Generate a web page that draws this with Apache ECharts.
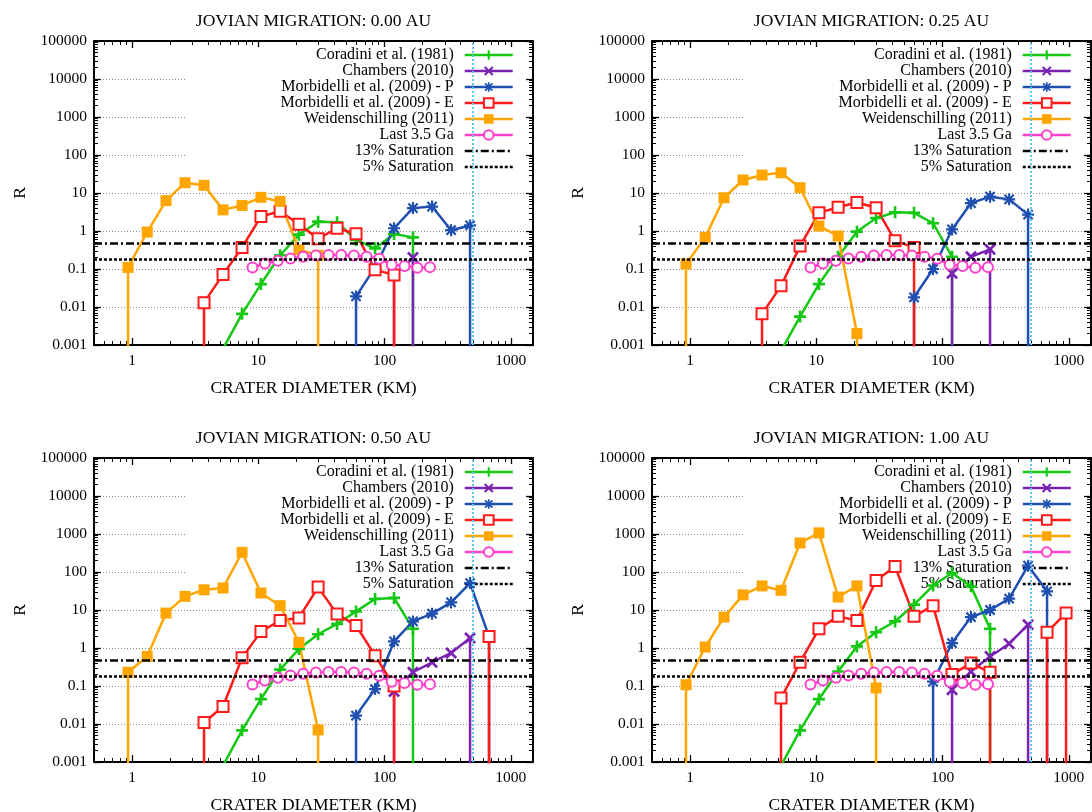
<!DOCTYPE html>
<html><head><meta charset="utf-8">
<script src="https://cdn.jsdelivr.net/npm/echarts@6/dist/echarts.min.js"></script>
<style>html,body{margin:0;padding:0;background:#fff}#c{width:1092px;height:812px}</style>
</head><body><div id="c"></div><script>
// ---------------- DATA ----------------
const titles = ['JOVIAN MIGRATION: 0.00 AU','JOVIAN MIGRATION: 0.25 AU','JOVIAN MIGRATION: 0.50 AU','JOVIAN MIGRATION: 1.00 AU'];
const seriesNames = ['Coradini et al. (1981)','Chambers (2010)','Morbidelli et al. (2009) - P','Morbidelli et al. (2009) - E','Weidenschilling (2011)','Last 3.5 Ga','13% Saturation','5% Saturation'];
const xTickValues = [1, 10, 100, 1000];
const xTickLabels = ['1', '10', '100', '1000'];
const yTickValues = [0.001, 0.01, 0.1, 1, 10, 100, 1000, 10000, 100000];
const yTickLabels = ['0.001', '0.01', '0.1', '1', '10', '100', '1000', '10000', '100000'];
const minorMantissas = [2, 3, 4, 5, 6, 7, 8, 9];
const xMinorDecades = [0.1, 1, 10, 100];
const yMinorDecades = [0.001, 0.01, 0.1, 1, 10, 100, 1000, 10000];
const X_MIN = 0.5, X_MAX = 1500, Y_MIN = 0.001, Y_MAX = 100000;
const sat13 = 0.481;   // 13% of geometric saturation
const sat05 = 0.185;   // 5% of geometric saturation
const refDiameter = 500;
// Pairs [D (km), R]; R = 0 means an empty bin (drawn as a drop off the plot)
// 0.00 AU
const cor000 = [[5.26,0.0008],[7.44,0.0066],[10.5,0.04],[14.9,0.23],[21.0,0.8],[29.8,1.76],[42.1,1.7],[59.5,0.58],[84.2,0.35],[119,0.83],[168,0.68],[168,0]];
const cha000 = [[119,0],[119,0.07],[168,0.2],[168,0]];
const morP000 = [[59.5,0],[59.5,0.019],[84.2,0.11],[119,1.18],[168,4.0],[238,4.4],[337,1.05],[476,1.4],[476,0]];
const morE000 = [[3.72,0],[3.72,0.013],[5.26,0.072],[7.44,0.37],[10.5,2.4],[14.9,3.3],[21.0,1.5],[29.8,0.63],[42.1,1.18],[59.5,0.85],[84.2,0.095],[119,0.07],[119,0]];
const wei000 = [[0.93,0],[0.93,0.11],[1.32,0.94],[1.86,6.3],[2.63,18.7],[3.72,15.9],[5.26,3.6],[7.44,4.7],[10.5,7.7],[14.9,6.0],[21.0,0.32],[29.8,0.23],[29.8,0]];
// 0.25 AU
const cor025 = [[5.26,0.0007],[7.44,0.0056],[10.5,0.04],[14.9,0.21],[21.0,0.96],[29.8,2.2],[42.1,3.1],[59.5,3.0],[84.2,1.6],[119,0.21],[119,0]];
const cha025 = [[119,0],[119,0.077],[168,0.21],[238,0.33],[238,0]];
const morP025 = [[59.5,0],[59.5,0.018],[84.2,0.1],[119,1.1],[168,5.4],[238,8.0],[337,6.8],[476,2.7],[476,0]];
const morE025 = [[3.72,0],[3.72,0.0066],[5.26,0.036],[7.44,0.4],[10.5,3.0],[14.9,4.2],[21.0,5.6],[29.8,4.1],[42.1,0.55],[59.5,0.37],[59.5,0]];
const wei025 = [[0.93,0],[0.93,0.135],[1.32,0.68],[1.86,7.5],[2.63,22],[3.72,29.7],[5.26,34],[7.44,13.8],[10.5,1.35],[14.9,0.74],[21.0,0.002],[21.0,0]];
// 0.50 AU
const cor050 = [[5.26,0.0008],[7.44,0.0068],[10.5,0.045],[14.9,0.27],[21.0,0.94],[29.8,2.3],[42.1,4.3],[59.5,9.2],[84.2,19.5],[119,20.8],[168,3.2],[168,0]];
const cha050 = [[119,0],[119,0.072],[168,0.23],[238,0.42],[337,0.74],[476,1.83],[476,0]];
const morP050 = [[59.5,0],[59.5,0.0166],[84.2,0.083],[119,1.5],[168,5.0],[238,8.0],[337,15.8],[476,51],[673,2.0],[673,0]];
const morE050 = [[3.72,0],[3.72,0.011],[5.26,0.029],[7.44,0.55],[10.5,2.7],[14.9,5.3],[21.0,6.2],[29.8,40],[42.1,7.8],[59.5,3.9],[84.2,0.63],[119,0.1],[119,0],[673,0],[673,2.0],[673,0]];
const wei050 = [[0.93,0],[0.93,0.23],[1.32,0.6],[1.86,8.3],[2.63,22.8],[3.72,34],[5.26,38],[7.44,329],[10.5,28],[14.9,13],[21.0,1.4],[29.8,0.007],[29.8,0]];
// 1.00 AU
const cor100 = [[5.26,0.0008],[7.44,0.0068],[10.5,0.045],[14.9,0.24],[21.0,1.1],[29.8,2.6],[42.1,5.0],[59.5,13.8],[84.2,44],[119,94],[168,42],[238,3.2],[238,0]];
const cha100 = [[119,0],[119,0.08],[168,0.24],[238,0.6],[337,1.3],[476,4.1],[476,0]];
const morP100 = [[84.2,0],[84.2,0.13],[119,1.35],[168,6.5],[238,10],[337,20],[476,147],[673,31],[673,0]];
const morE100 = [[5.26,0],[5.26,0.048],[7.44,0.42],[10.5,3.2],[14.9,6.8],[21.0,5.3],[29.8,60],[42.1,140],[59.5,6.8],[84.2,13],[119,0.2],[168,0.4],[238,0.23],[238,0],[673,0],[673,2.6],[952,8.3],[952,0]];
const wei100 = [[0.93,0],[0.93,0.108],[1.32,1.06],[1.86,6.5],[2.63,25],[3.72,43],[5.26,33],[7.44,580],[10.5,1070],[14.9,22],[21.0,43],[29.8,0.089],[29.8,0]];
// Last 3.5 Ga (same in all panels)
const lastD = [9.0, 11.3, 14.3, 18.0, 22.7, 28.6, 36.0, 45.4, 57.2, 72.1, 90.8, 114, 144, 182, 229];
const lastR = [0.11, 0.14, 0.165, 0.19, 0.21, 0.225, 0.235, 0.235, 0.225, 0.21, 0.185, 0.13, 0.12, 0.108, 0.112];

// ---------------- BUILD ----------------
const panels = [
  {cor: cor000, cha: cha000, morP: morP000, morE: morE000, wei: wei000},
  {cor: cor025, cha: cha025, morP: morP025, morE: morE025, wei: wei025},
  {cor: cor050, cha: cha050, morP: morP050, morE: morE050, wei: wei050},
  {cor: cor100, cha: cha100, morP: morP100, morE: morE100, wei: wei100}
];
const FONT = 'Liberation Serif';
const FLOOR = 1e-6;
const PLUS = 'path://M3.9,0H6.1V3.9H10V6.1H6.1V10H3.9V6.1H0V3.9H3.9Z';
const CROSS = 'path://M0,1.6L1.6,0L5,3.4L8.4,0L10,1.6L6.6,5L10,8.4L8.4,10L5,6.6L1.6,10L0,8.4L3.4,5Z';
const STAR = 'path://M4.1,0H5.9V10H4.1Z M0,4.1H10V5.9H0Z M0.5,1.8L1.8,0.5L9.5,8.2L8.2,9.5Z M8.2,0.5L9.5,1.8L1.8,9.5L0.5,8.2Z';
const sty = {
  cor:  {color:'#14c814', symbol: PLUS, size: 12},
  cha:  {color:'#7a22b2', symbol: CROSS, size: 12},
  morP: {color:'#1f4fb0', symbol: STAR, size: 12},
  morE: {color:'#ff1a1a', symbol: 'emptyRect', size: 11},
  wei:  {color:'#ffa500', symbol: 'rect', size: 11},
  last: {color:'#ff40c8', symbol: 'emptyCircle', size: 10}
};
const gridPos = [
  {left: 94, top: 41}, {left: 652, top: 41}, {left: 94, top: 458}, {left: 652, top: 458}
];
const GW = 439, GH = 304;
const xMinor = [];
xMinorDecades.forEach(d => minorMantissas.forEach(m => { const v = +(m * d).toPrecision(3); if (v > X_MIN - 1e-9 && v < X_MAX) xMinor.push(v); }));
const yMinor = [];
yMinorDecades.forEach(d => minorMantissas.forEach(m => yMinor.push(+(m * d).toPrecision(3))));

const txt = (size) => ({fontFamily: FONT, fontSize: size, color: '#000'});
const xLab = v => xTickLabels[Math.round(Math.log10(v))];
const yLab = v => yTickLabels[Math.round(Math.log10(v)) + 3];

const grid = [], xAxis = [], yAxis = [], series = [], legend = [];
panels.forEach((pd, p) => {
  grid.push({left: gridPos[p].left, top: gridPos[p].top, width: GW, height: GH, outerBoundsMode: 'none', containLabel: false});
  const base = {type: 'log', logBase: 10, gridIndex: p, splitLine: {show: false}, axisPointer: {show: false}};
  const xb = Object.assign({}, base, {min: X_MIN, max: X_MAX});
  const yb = Object.assign({}, base, {min: Y_MIN, max: Y_MAX, interval: 1});
  const lineOn = {show: true, onZero: false, lineStyle: {color: '#000', width: 2}};
  const lineOff = {show: false};
  const majTick = vals => ({show: true, inside: true, length: 7, customValues: vals, lineStyle: {color: '#000', width: 1.3}});
  const minTick = vals => ({show: true, inside: true, length: 4, customValues: vals, lineStyle: {color: '#000', width: 1}});
  // x axes
  xAxis.push(Object.assign({}, xb, {position: 'bottom', axisLine: lineOn, axisTick: majTick(xTickValues),
    axisLabel: {show: true, customValues: xTickValues, formatter: xLab, margin: 8, ...txt(15.5)},
    name: 'CRATER DIAMETER (KM)', nameLocation: 'middle', nameGap: 34, nameTextStyle: txt(17.5)}));
  xAxis.push(Object.assign({}, xb, {position: 'bottom', axisLine: lineOff, axisTick: minTick(xMinor), axisLabel: {show: false}}));
  xAxis.push(Object.assign({}, xb, {position: 'top', axisLine: lineOn, axisTick: majTick(xTickValues), axisLabel: {show: false},
    name: titles[p], nameLocation: 'middle', nameGap: 11, nameTextStyle: txt(17.5)}));
  xAxis.push(Object.assign({}, xb, {position: 'top', axisLine: lineOff, axisTick: minTick(xMinor), axisLabel: {show: false}}));
  // y axes
  yAxis.push(Object.assign({}, yb, {position: 'left', axisLine: lineOn, axisTick: majTick(yTickValues),
    axisLabel: {show: true, customValues: yTickValues, formatter: yLab, margin: 7, ...txt(15.5)},
    splitLine: {show: true, lineStyle: {color: '#8a8a8a', width: 1, type: [1, 2]}},
    name: 'R', nameLocation: 'middle', nameGap: 65, nameRotate: 90, nameTextStyle: txt(17.5)}));
  yAxis.push(Object.assign({}, yb, {position: 'left', axisLine: lineOff, axisTick: minTick(yMinor), axisLabel: {show: false}}));
  yAxis.push(Object.assign({}, yb, {position: 'right', axisLine: lineOn, axisTick: majTick(yTickValues), axisLabel: {show: false}}));
  yAxis.push(Object.assign({}, yb, {position: 'right', axisLine: lineOff, axisTick: minTick(yMinor), axisLabel: {show: false}}));

  const ax = {xAxisIndex: 4 * p, yAxisIndex: 4 * p};
  const mk = (name, pairs, st) => Object.assign({
    type: 'line', name: name,
    data: pairs.map(d => [d[0], d[1] === 0 ? FLOOR : d[1]]),
    symbol: st.symbol, symbolSize: st.size, showAllSymbol: true, clip: true,
    lineStyle: {color: st.color, width: 2.5},
    itemStyle: {color: st.color, borderColor: st.color, borderWidth: 0},
    animation: false, silent: true, z: 2
  }, ax);
  series.push(mk(seriesNames[0], pd.cor, sty.cor));
  series.push(mk(seriesNames[1], pd.cha, sty.cha));
  series.push(mk(seriesNames[2], pd.morP, sty.morP));
  series.push(mk(seriesNames[3], pd.morE, sty.morE));
  series.push(mk(seriesNames[4], pd.wei, sty.wei));
  series.push(mk(seriesNames[5], lastD.map((d, i) => [d, lastR[i]]), sty.last));
  const satSeries = (name, val, dash) => Object.assign({
    type: 'line', name: name, data: [], symbol: 'none', animation: false, silent: true,
    itemStyle: {color: '#000', opacity: 0},
    lineStyle: {color: '#000', width: 2.5, type: dash},
    markLine: {silent: true, symbol: ['none', 'none'], label: {show: false}, animation: false,
      lineStyle: {color: '#000', width: 2.5, type: dash}, emphasis: {disabled: true}, data: [{yAxis: val}]}
  }, ax);
  series.push(satSeries(seriesNames[6], sat13, [8, 3, 2, 3]));
  series.push(satSeries(seriesNames[7], sat05, [3, 2]));
  series.push(Object.assign({
    type: 'line', name: 'ref', data: [], symbol: 'none', animation: false, silent: true,
    markLine: {silent: true, symbol: ['none', 'none'], label: {show: false}, animation: false, z: 6,
      lineStyle: {color: '#5ec8f5', width: 2, type: [2, 2]}, emphasis: {disabled: true}, data: [{xAxis: refDiameter}]}
  }, ax));

  const boxRight = gridPos[p].left + GW - 9;
  legend.push({
    orient: 'vertical', align: 'right', right: 1092 - boxRight, top: gridPos[p].top + 6,
    itemWidth: 48, itemHeight: 12, itemGap: 0, padding: [0, 10, 4, 94],
    backgroundColor: '#fff', z: 1, selectedMode: false,
    textStyle: Object.assign(txt(16), {lineHeight: 16, padding: [0, 6, 0, 0]}),
    lineStyle: {width: 2.5},
    data: seriesNames
  });
});

const chart = echarts.init(document.getElementById('c'), null, {renderer: 'canvas'});
chart.setOption({
  animation: false, backgroundColor: '#fff',
  grid, xAxis, yAxis, series, legend, tooltip: {show: false}
});
</script></body></html>
